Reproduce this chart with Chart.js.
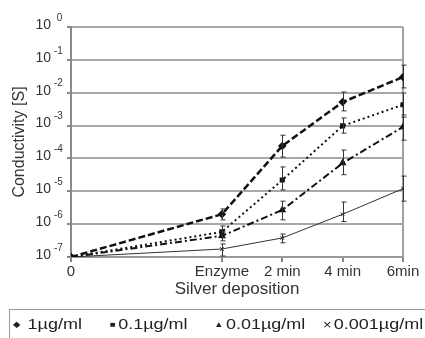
<!DOCTYPE html>
<html lang="en">
<head>
  <meta charset="UTF-8">
  <title>Conductivity vs silver deposition</title>
  <script src="https://cdn.jsdelivr.net/npm/chart.js"></script>
  <style>
    body {
      margin: 0;
      background: #fff;
      font-family: 'Liberation Sans', Arial, sans-serif;
    }

    .wrap {
      position: relative;
      width: 425px;
      height: 338px;
    }

    .legend {
      position: absolute;
      left: 9px;
      top: 309px;
      width: 430px;
      height: 40px;
      border: 1px solid #999;
      box-sizing: border-box;
      color: #222;
    }

    .legend span {
      position: absolute;
      top: 5px;
      font-size: 15px;
      white-space: nowrap;
      transform: scaleX(1.2);
      transform-origin: left center;
    }

    .legend i {
      font-style: normal;
      font-size: 8px;
      vertical-align: 2px;
      margin-right: 2px;
    }

    .legend i.big {
      font-size: 12px;
      vertical-align: 0;
    }
  </style>
</head>
<body>
  <div class="wrap">
    <canvas id="chart" width="425" height="338"></canvas>
    <div class="legend" id="legend"></div>
  </div>

  <script>
    // x positions: 0, Enzyme, then 2/4/6 min of silver deposition
    const xPos = [0, 5, 7, 9, 11];
    const xLabels = ['0', 'Enzyme', '2 min', '4 min', '6min'];
    const yTicks = [1e-7, 1e-6, 1e-5, 1e-4, 1e-3, 1e-2, 1e-1, 1];

    const seriesNames = ['1\u00b5g/ml', '0.1\u00b5g/ml', '0.01\u00b5g/ml', '0.001\u00b5g/ml'];

    const s1 = [1e-7, 2.0e-6, 2.4e-4, 5.2e-3, 3.0e-2];
    const s1Lo = [null, 1.35e-6, 1.1e-4, 2.8e-3, 1.4e-2];
    const s1Hi = [null, 2.9e-6, 5.1e-4, 1.05e-2, 6.9e-2];

    const s2 = [1e-7, 5.8e-7, 2.2e-5, 9.8e-4, 4.3e-3];
    const s2Lo = [null, 3.8e-7, 1.1e-5, 5.9e-4, 1.8e-3];
    const s2Hi = [null, 8.8e-7, 5.5e-5, 1.7e-3, 9.8e-3];

    const s3 = [1e-7, 4.4e-7, 2.7e-6, 7.2e-5, 9.1e-4];
    const s3Lo = [null, 3.1e-7, 1.35e-6, 3.2e-5, 3.6e-4];
    const s3Hi = [null, 5.8e-7, 5.0e-6, 1.8e-4, 2.1e-3];

    const s4 = [1e-7, 1.75e-7, 3.8e-7, 2.0e-6, 1.2e-5];
    const s4Lo = [null, 1.07e-7, 2.7e-7, 1.2e-6, 5.0e-6];
    const s4Hi = [null, 2.5e-7, 5.0e-7, 4.7e-6, 2.9e-5];

    const toPoints = arr => arr.map((v, i) => ({ x: xPos[i], y: v }));

    Chart.defaults.font.family = "'Liberation Sans', Arial, sans-serif";
    Chart.defaults.color = '#222';

    // error bars drawn through the scales
    const errorBars = {
      id: 'errorBars',
      afterDatasetsDraw(chart) {
        const { ctx, scales: { x, y } } = chart;
        ctx.save();
        ctx.strokeStyle = '#333';
        ctx.lineWidth = 1;
        chart.data.datasets.forEach(ds => {
          ds.lo.forEach((lo, i) => {
            if (lo == null) return;
            const px = Math.round(x.getPixelForValue(xPos[i])) + 0.5;
            const top = y.getPixelForValue(ds.hi[i]);
            const bot = y.getPixelForValue(lo);
            ctx.beginPath();
            ctx.moveTo(px, top); ctx.lineTo(px, bot);
            ctx.moveTo(px - 2, top); ctx.lineTo(px + 3, top);
            ctx.moveTo(px - 2, bot); ctx.lineTo(px + 3, bot);
            ctx.stroke();
          });
        });
        ctx.restore();
      }
    };

    // "10" with a raised exponent for the y ticks
    const powerLabels = {
      id: 'powerLabels',
      afterDraw(chart) {
        const { ctx, scales: { y } } = chart;
        ctx.save();
        ctx.fillStyle = '#333';
        ctx.textBaseline = 'middle';
        yTicks.forEach(v => {
          const py = y.getPixelForValue(v);
          const exp = Math.round(Math.log10(v));
          ctx.font = "14px 'Liberation Sans', Arial, sans-serif";
          ctx.textAlign = 'right';
          ctx.fillText('10', 51, py - 2);
          ctx.font = "10px 'Liberation Sans', Arial, sans-serif";
          ctx.textAlign = 'left';
          ctx.fillText(exp === 0 ? ' 0' : '-' + (-exp), 54, py - 9);
        });
        ctx.restore();
      }
    };

    const common = { fill: false, tension: 0, pointBorderColor: '#111', pointBackgroundColor: '#111', borderColor: '#111' };

    new Chart(document.getElementById('chart'), {
      type: 'line',
      data: {
        datasets: [
          { ...common, label: seriesNames[0], data: toPoints(s1), lo: s1Lo, hi: s1Hi, borderWidth: 2.5, borderDash: [7, 3], pointStyle: 'rectRot', pointRadius: 2.5 },
          { ...common, label: seriesNames[1], data: toPoints(s2), lo: s2Lo, hi: s2Hi, borderWidth: 2, borderDash: [2, 3], pointStyle: 'rect', pointRadius: 2.2 },
          { ...common, label: seriesNames[2], data: toPoints(s3), lo: s3Lo, hi: s3Hi, borderWidth: 2, borderDash: [7, 3, 2, 3], pointStyle: 'triangle', pointRadius: 2.5 },
          { ...common, label: seriesNames[3], data: toPoints(s4), lo: s4Lo, hi: s4Hi, borderWidth: 1, borderColor: '#333', pointStyle: 'crossRot', pointRadius: 2.5, pointBorderWidth: 1 }
        ]
      },
      options: {
        responsive: false,
        animation: false,
        layout: { padding: { top: 27, right: 22, left: 0, bottom: 38 } },
        plugins: { legend: { display: false }, tooltip: { enabled: false } },
        scales: {
          x: {
            type: 'linear',
            min: 0,
            max: 11,
            afterBuildTicks: s => { s.ticks = xPos.map(v => ({ value: v })); },
            afterFit: s => { s.height = 43; },
            ticks: {
              autoSkip: false,
              maxRotation: 0,
              padding: 1,
              font: { size: 15 },
              color: '#333',
              callback: v => xLabels[xPos.indexOf(v)]
            },
            grid: {
              drawOnChartArea: true,
              color: c => (c.tick && c.tick.value === 11 ? '#a0a0a0' : 'rgba(0,0,0,0)'),
              lineWidth: 2,
              tickColor: '#888',
              tickLength: 5
            },
            border: { display: true, color: '#999', width: 2 },
            title: { display: true, text: 'Silver deposition', font: { size: 17 }, color: '#333', padding: { top: 0, bottom: 0 } }
          },
          y: {
            type: 'logarithmic',
            min: 1e-7,
            max: 1,
            afterBuildTicks: s => { s.ticks = yTicks.map(v => ({ value: v })); },
            afterFit: s => { s.width = 71; },
            ticks: { callback: () => '' },
            grid: { color: '#a8a8a8', lineWidth: 2, tickColor: '#888', tickLength: 4 },
            border: { display: true, color: '#888', width: 2 },
            title: { display: true, text: 'Conductivity [S]', font: { size: 16 }, color: '#333', padding: { top: 10, bottom: 0 } }
          }
        }
      },
      plugins: [errorBars, powerLabels]
    });

    // legend below the chart
    const legendMarks = ['\u25c6', '\u25a0', '\u25b2', '\u00d7'];
    const legendLeft = [3, 100, 204, 313];
    const legend = document.getElementById('legend');
    seriesNames.forEach((name, i) => {
      const el = document.createElement('span');
      el.style.left = legendLeft[i] + 'px';
      const cls = i === 3 ? ' class="big"' : '';
      el.innerHTML = '<i' + cls + '>' + legendMarks[i] + '</i>' + (i === 0 ? ' ' : '') + name;
      legend.appendChild(el);
    });
  </script>
</body>
</html>
